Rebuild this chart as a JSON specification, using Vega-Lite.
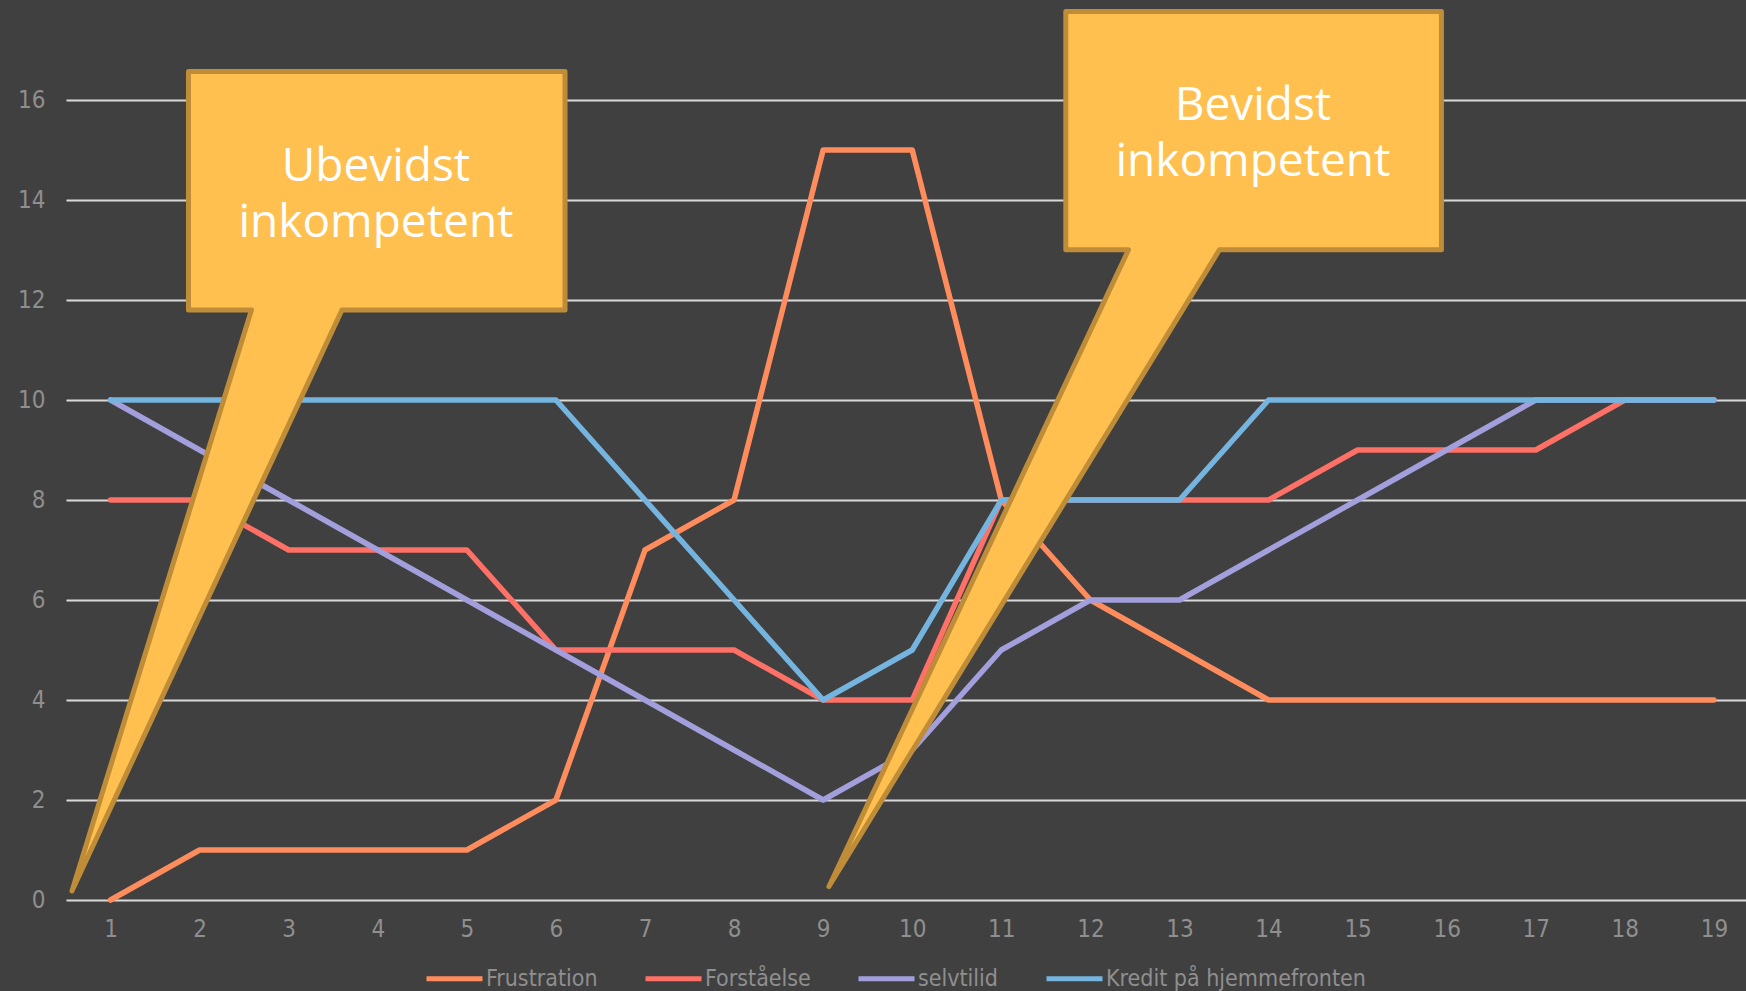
{
  "$schema": "https://vega.github.io/schema/vega-lite/v6.json",
  "width": 1680,
  "height": 900,
  "autosize": {"type": "none"},
  "padding": {"left": 66, "top": 0, "right": 0, "bottom": 91},
  "background": "#404040",
  "config": {
    "view": {"stroke": null},
    "font": "DejaVu Sans Condensed, DejaVu Sans, sans-serif",
    "axis": {"labelFont": "DejaVu Sans Condensed, DejaVu Sans, sans-serif", "labelColor": "#8f8f8f", "labelFontSize": 22, "title": null, "domain": false, "ticks": false},
    "legend": {"labelFont": "DejaVu Sans Condensed, DejaVu Sans, sans-serif"}
  },
  "datasets": {
    "series": [
      {"step": 1, "series": "Frustration", "value": 0},
      {"step": 2, "series": "Frustration", "value": 1},
      {"step": 3, "series": "Frustration", "value": 1},
      {"step": 4, "series": "Frustration", "value": 1},
      {"step": 5, "series": "Frustration", "value": 1},
      {"step": 6, "series": "Frustration", "value": 2},
      {"step": 7, "series": "Frustration", "value": 7},
      {"step": 8, "series": "Frustration", "value": 8},
      {"step": 9, "series": "Frustration", "value": 15},
      {"step": 10, "series": "Frustration", "value": 15},
      {"step": 11, "series": "Frustration", "value": 8},
      {"step": 12, "series": "Frustration", "value": 6},
      {"step": 13, "series": "Frustration", "value": 5},
      {"step": 14, "series": "Frustration", "value": 4},
      {"step": 15, "series": "Frustration", "value": 4},
      {"step": 16, "series": "Frustration", "value": 4},
      {"step": 17, "series": "Frustration", "value": 4},
      {"step": 18, "series": "Frustration", "value": 4},
      {"step": 19, "series": "Frustration", "value": 4},
      {"step": 1, "series": "Forståelse", "value": 8},
      {"step": 2, "series": "Forståelse", "value": 8},
      {"step": 3, "series": "Forståelse", "value": 7},
      {"step": 4, "series": "Forståelse", "value": 7},
      {"step": 5, "series": "Forståelse", "value": 7},
      {"step": 6, "series": "Forståelse", "value": 5},
      {"step": 7, "series": "Forståelse", "value": 5},
      {"step": 8, "series": "Forståelse", "value": 5},
      {"step": 9, "series": "Forståelse", "value": 4},
      {"step": 10, "series": "Forståelse", "value": 4},
      {"step": 11, "series": "Forståelse", "value": 8},
      {"step": 12, "series": "Forståelse", "value": 8},
      {"step": 13, "series": "Forståelse", "value": 8},
      {"step": 14, "series": "Forståelse", "value": 8},
      {"step": 15, "series": "Forståelse", "value": 9},
      {"step": 16, "series": "Forståelse", "value": 9},
      {"step": 17, "series": "Forståelse", "value": 9},
      {"step": 18, "series": "Forståelse", "value": 10},
      {"step": 19, "series": "Forståelse", "value": 10},
      {"step": 1, "series": "selvtilid", "value": 10},
      {"step": 2, "series": "selvtilid", "value": 9},
      {"step": 3, "series": "selvtilid", "value": 8},
      {"step": 4, "series": "selvtilid", "value": 7},
      {"step": 5, "series": "selvtilid", "value": 6},
      {"step": 6, "series": "selvtilid", "value": 5},
      {"step": 7, "series": "selvtilid", "value": 4},
      {"step": 8, "series": "selvtilid", "value": 3},
      {"step": 9, "series": "selvtilid", "value": 2},
      {"step": 10, "series": "selvtilid", "value": 3},
      {"step": 11, "series": "selvtilid", "value": 5},
      {"step": 12, "series": "selvtilid", "value": 6},
      {"step": 13, "series": "selvtilid", "value": 6},
      {"step": 14, "series": "selvtilid", "value": 7},
      {"step": 15, "series": "selvtilid", "value": 8},
      {"step": 16, "series": "selvtilid", "value": 9},
      {"step": 17, "series": "selvtilid", "value": 10},
      {"step": 18, "series": "selvtilid", "value": 10},
      {"step": 19, "series": "selvtilid", "value": 10},
      {"step": 1, "series": "Kredit på hjemmefronten", "value": 10},
      {"step": 2, "series": "Kredit på hjemmefronten", "value": 10},
      {"step": 3, "series": "Kredit på hjemmefronten", "value": 10},
      {"step": 4, "series": "Kredit på hjemmefronten", "value": 10},
      {"step": 5, "series": "Kredit på hjemmefronten", "value": 10},
      {"step": 6, "series": "Kredit på hjemmefronten", "value": 10},
      {"step": 7, "series": "Kredit på hjemmefronten", "value": 8},
      {"step": 8, "series": "Kredit på hjemmefronten", "value": 6},
      {"step": 9, "series": "Kredit på hjemmefronten", "value": 4},
      {"step": 10, "series": "Kredit på hjemmefronten", "value": 5},
      {"step": 11, "series": "Kredit på hjemmefronten", "value": 8},
      {"step": 12, "series": "Kredit på hjemmefronten", "value": 8},
      {"step": 13, "series": "Kredit på hjemmefronten", "value": 8},
      {"step": 14, "series": "Kredit på hjemmefronten", "value": 10},
      {"step": 15, "series": "Kredit på hjemmefronten", "value": 10},
      {"step": 16, "series": "Kredit på hjemmefronten", "value": 10},
      {"step": 17, "series": "Kredit på hjemmefronten", "value": 10},
      {"step": 18, "series": "Kredit på hjemmefronten", "value": 10},
      {"step": 19, "series": "Kredit på hjemmefronten", "value": 10}
    ],
    "callouts": [
      {"callout": "a", "order": 1, "step": 1.875, "value": 16.57},
      {"callout": "a", "order": 2, "step": 6.102, "value": 16.57},
      {"callout": "a", "order": 3, "step": 6.102, "value": 11.8},
      {"callout": "a", "order": 4, "step": 3.598, "value": 11.8},
      {"callout": "a", "order": 5, "step": 0.567, "value": 0.18},
      {"callout": "a", "order": 6, "step": 2.582, "value": 11.8},
      {"callout": "a", "order": 7, "step": 1.875, "value": 11.8},
      {"callout": "b", "order": 1, "step": 11.724, "value": 17.77},
      {"callout": "b", "order": 2, "step": 15.941, "value": 17.77},
      {"callout": "b", "order": 3, "step": 15.941, "value": 13.004},
      {"callout": "b", "order": 4, "step": 13.449, "value": 13.004},
      {"callout": "b", "order": 5, "step": 9.065, "value": 0.27},
      {"callout": "b", "order": 6, "step": 12.428, "value": 13.004},
      {"callout": "b", "order": 7, "step": 11.724, "value": 13.004}
    ],
    "labels": [
      {"step": 3.98, "value": 14.386, "label": "Ubevidst\ninkompetent"},
      {"step": 13.825, "value": 15.6, "label": "Bevidst\ninkompetent"}
    ]
  },
  "layer": [
    {
      "data": {"name": "series"},
      "mark": {"type": "line", "strokeWidth": 5.5, "strokeCap": "round", "strokeJoin": "round"},
      "encoding": {
        "x": {"field": "step", "type": "quantitative", "scale": {"domain": [0.5, 19.36], "nice": false, "zero": false},
          "axis": {"values": [1,2,3,4,5,6,7,8,9,10,11,12,13,14,15,16,17,18,19], "format": "d", "grid": false, "labelPadding": 17, "labelFontSize": 24}},
        "y": {"field": "value", "type": "quantitative", "scale": {"domain": [0, 18], "nice": false},
          "axis": {"values": [0,2,4,6,8,10,12,14,16], "format": "d", "grid": true, "gridColor": "#d9d9d9", "gridWidth": 2, "labelPadding": 21, "labelFontSize": 24}},
        "color": {"field": "series", "type": "nominal",
          "scale": {"domain": ["Frustration", "Forståelse", "selvtilid", "Kredit på hjemmefronten"], "range": ["#FF8C5C", "#FF7066", "#A39FDD", "#74B4DF"]},
          "legend": {"title": null, "orient": "none", "direction": "horizontal", "legendX": 358, "legendY": 948, "padding": 0,
            "symbolType": "stroke", "symbolSize": 3136, "symbolStrokeWidth": 5, "labelOffset": 1, "columnPadding": 37,
            "labelFontSize": 23, "labelLimit": 0, "labelColor": "#8f8f8f"}},
        "order": {"field": "step", "type": "quantitative"}
      }
    },
    {
      "data": {"name": "callouts"},
      "mark": {"type": "line", "interpolate": "linear-closed", "fill": "#FFC050", "stroke": "#BF8C38", "strokeWidth": 5, "strokeJoin": "round", "strokeCap": "round"},
      "encoding": {
        "x": {"field": "step", "type": "quantitative"},
        "y": {"field": "value", "type": "quantitative"},
        "detail": {"field": "callout", "type": "nominal"},
        "order": {"field": "order", "type": "quantitative"}
      }
    },
    {
      "data": {"name": "labels"},
      "mark": {"type": "text", "font": "Open Sans", "fontSize": 46, "color": "#ffffff", "align": "center", "baseline": "alphabetic", "lineBreak": "\n", "lineHeight": 56},
      "encoding": {
        "x": {"field": "step", "type": "quantitative"},
        "y": {"field": "value", "type": "quantitative"},
        "text": {"field": "label", "type": "nominal"}
      }
    }
  ]
}
